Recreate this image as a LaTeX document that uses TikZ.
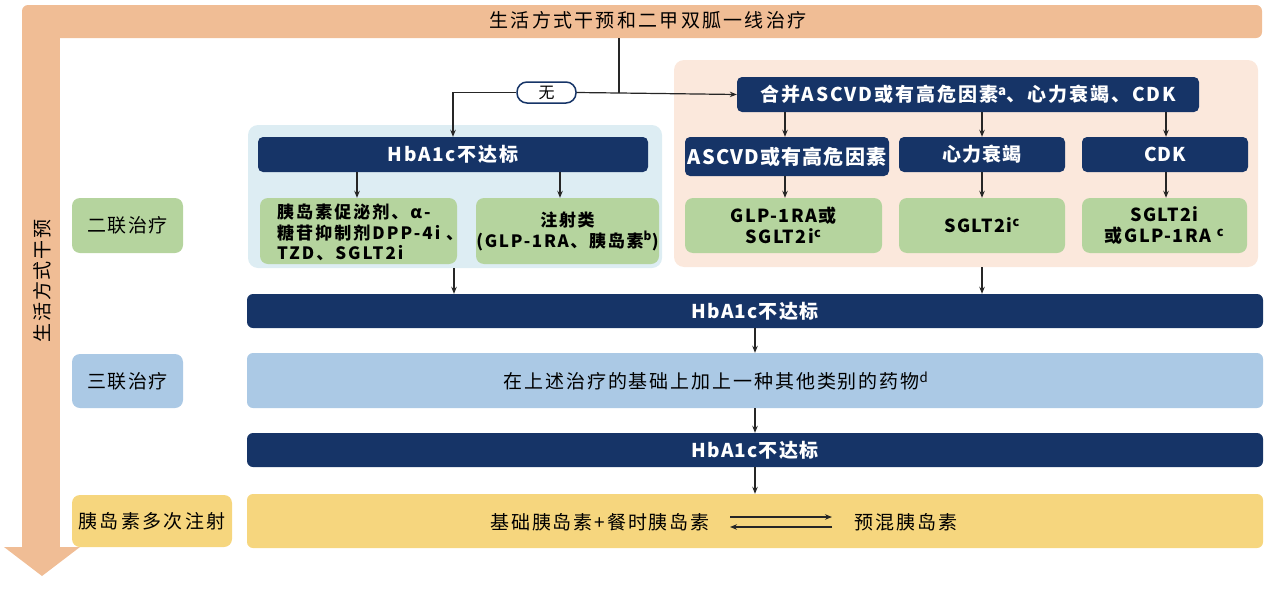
\documentclass[tikz,border=0pt]{standalone}
\usepackage{fontspec}
\setmainfont{Noto Sans CJK SC}
\usetikzlibrary{arrows.meta,calc}
\definecolor{navy}{RGB}{22,52,103}
\definecolor{orangebar}{RGB}{240,189,149}
\definecolor{lcontc}{RGB}{221,237,243}
\definecolor{rcontc}{RGB}{251,232,220}
\definecolor{greenc}{RGB}{181,212,158}
\definecolor{bluec}{RGB}{171,201,229}
\definecolor{yellowc}{RGB}{246,214,126}
\newcommand{\fsz}[2]{\fontsize{#1}{#2}\selectfont}
\newcommand{\lsp}[1]{\addfontfeature{LetterSpace=#1}}
\begin{document}
\begin{tikzpicture}[x=1pt,y=-1pt,
  navybox/.style={fill=navy, rounded corners=5pt, text=white, inner sep=0pt,
    font=\bfseries\fsz{19}{22}\lsp{4}},
  greenbox/.style={fill=greenc, rounded corners=8pt, inner sep=0pt, align=center,
    font=\bfseries\fsz{18}{21}\lsp{8}},
  widebar/.style={rounded corners=6pt, inner sep=0pt, minimum width=1016pt},
  bartext/.style={font=\fsz{19}{22}\lsp{10}},
  sidelabel/.style={rounded corners=8pt, inner sep=0pt, font=\fsz{19}{22}\lsp{8}},
  container/.style={rounded corners=10pt, inner sep=0pt},
  conn/.style={draw=black!85, line width=1.2pt},
  arr/.style={conn, -{Stealth[length=7pt,width=5.5pt]}},
]
\useasboundingbox (0,0) rectangle (1269,589);

% big orange L-arrow
\fill[orangebar, rounded corners=6pt] (22,5) rectangle (1262,38);
\fill[orangebar] (22,20) rectangle (60,547);
\fill[orangebar] (4,547) -- (80,547) -- (42,576) -- cycle;
\node[font=\fsz{19}{22}\lsp{12}] (title) at (648,20) {生活方式干预和二甲双胍一线治疗};
\node[rotate=90, font=\fsz{19}{22}\lsp{10}] (side) at (42,281) {生活方式干预};

% containers
\node[container, fill=lcontc, minimum width=414pt, minimum height=143pt] (lcont) at (455,196.5) {};
\node[container, fill=rcontc, minimum width=584pt, minimum height=207pt] (rcont) at (966,163.5) {};

% left branch
\node[navybox, minimum width=390pt, minimum height=35pt, font=\bfseries\fsz{19}{22}\lsp{9}] (h1) at (453,154.5) {HbA1c不达标};
\node[greenbox, minimum width=197pt, minimum height=66pt] (gL) at (358.5,231) {};
\node[anchor=west, inner sep=0pt, align=left, font=\bfseries\fsz{17}{20.5}\lsp{12}] (gLtext) at (277,232.5)
  {胰岛素促泌剂、α-\\糖苷抑制剂DPP-4i 、\\TZD、SGLT2i};
\node[greenbox, minimum width=183pt, minimum height=66pt, font=\bfseries\fsz{17}{21}\lsp{10}] (gR) at (567.5,231)
  {注射类\\(GLP-1RA、胰岛素\textsuperscript{b})};

% right branch
\node[navybox, minimum width=462pt, minimum height=35pt, font=\bfseries\fsz{19}{22}\lsp{10}] (combo) at (968,94.5)
  {合并ASCVD或有高危因素\textsuperscript{a}、心力衰竭、CDK};
\node[navybox, minimum width=204pt, minimum height=39pt, font=\bfseries\fsz{20}{22}\lsp{6}] (rA) at (787,156.5) {ASCVD或有高危因素};
\node[navybox, minimum width=166pt, minimum height=35pt] (rB) at (982,154.5) {心力衰竭};
\node[navybox, minimum width=166pt, minimum height=35pt] (rC) at (1165,154.5) {CDK};
\node[greenbox, minimum width=197pt, minimum height=55pt] (gA) at (783.5,225.5) {GLP-1RA或\\SGLT2i\textsuperscript{c}};
\node[greenbox, minimum width=166pt, minimum height=55pt] (gB) at (982,225.5) {SGLT2i\textsuperscript{c}};
\node[greenbox, minimum width=165pt, minimum height=55pt] (gC) at (1164.5,225.5) {SGLT2i\\或GLP-1RA \textsuperscript{c}};

% "无" pill
\node[draw=navy, line width=1.5pt, fill=white, rounded corners=10pt, minimum width=59pt, minimum height=21pt,
  inner sep=0pt, font=\fsz{16}{18}] (wu) at (546.5,92.5) {无};

% wide bars
\node[widebar, fill=navy, text=white, minimum height=34pt, font=\bfseries\fsz{19}{22}\lsp{6}] (h2) at (755,311) {HbA1c不达标};
\node[widebar, fill=bluec, minimum height=55pt] (tri) at (755,380.5) {};
\node[bartext] (tritext) at (716,381) {在上述治疗的基础上加上一种其他类别的药物\textsuperscript{d}};
\node[widebar, fill=navy, text=white, minimum height=34pt, font=\bfseries\fsz{19}{22}\lsp{6}] (h3) at (755,450) {HbA1c不达标};
\node[widebar, fill=yellowc, minimum height=54pt] (ins) at (755,521) {};
\node[bartext, font=\fsz{19}{22}\lsp{10}] (yt1) at (600,522) {基础胰岛素+餐时胰岛素};
\node[bartext, font=\fsz{19}{22}\lsp{10}] (yt2) at (906,522) {预混胰岛素};

% side labels
\node[sidelabel, fill=greenc, minimum width=111pt, minimum height=55pt] (L1) at (127.5,225.5) {二联治疗};
\node[sidelabel, fill=bluec, minimum width=111pt, minimum height=54pt] (L2) at (127.5,381) {三联治疗};
\node[sidelabel, fill=yellowc, minimum width=160pt, minimum height=52pt, font=\fsz{19}{22}\lsp{12}] (L3) at (152,521) {胰岛素多次注射};

% connectors
\coordinate (bartap) at (619,38);
\coordinate (split) at (619,93);
\coordinate (xL) at (357,0);
\coordinate (xR) at (560,0);
\coordinate (xA) at (785,0);
\coordinate (xB) at (982,0);
\coordinate (xC) at (1166,0);
\coordinate (x1) at (454,0);
\coordinate (ya) at (0,517);
\coordinate (yb) at (0,527);
\coordinate (xa) at (730,0);
\coordinate (xb) at (832,0);

\draw[conn] (bartap) -- (split);
\draw[arr] (split) -- (combo.west);
\draw[conn] (split) -- (wu.east);
\draw[arr] (wu.west) -| (h1.north);

\draw[arr] (h1.south -| xL) -- (gL.north -| xL);
\draw[arr] (h1.south -| xR) -- (gR.north -| xR);

\draw[arr] (combo.south -| xA) -- (rA.north -| xA);
\draw[arr] (combo.south -| xB) -- (rB.north -| xB);
\draw[arr] (combo.south -| xC) -- (rC.north -| xC);
\draw[arr] (rA.south -| xA) -- (gA.north -| xA);
\draw[arr] (rB.south -| xB) -- (gB.north -| xB);
\draw[arr] (rC.south -| xC) -- (gC.north -| xC);

\draw[arr] (lcont.south -| x1) -- (h2.north -| x1);
\draw[arr] (rcont.south -| xB) -- (h2.north -| xB);
\draw[arr] (h2.south) -- (tri.north);
\draw[arr] (tri.south) -- (h3.north);
\draw[arr] (h3.south) -- (ins.north);

\draw[arr, line width=1.4pt] (xa |- ya) -- (xb |- ya);
\draw[arr, line width=1.4pt] (xb |- yb) -- (xa |- yb);
\end{tikzpicture}
\end{document}
